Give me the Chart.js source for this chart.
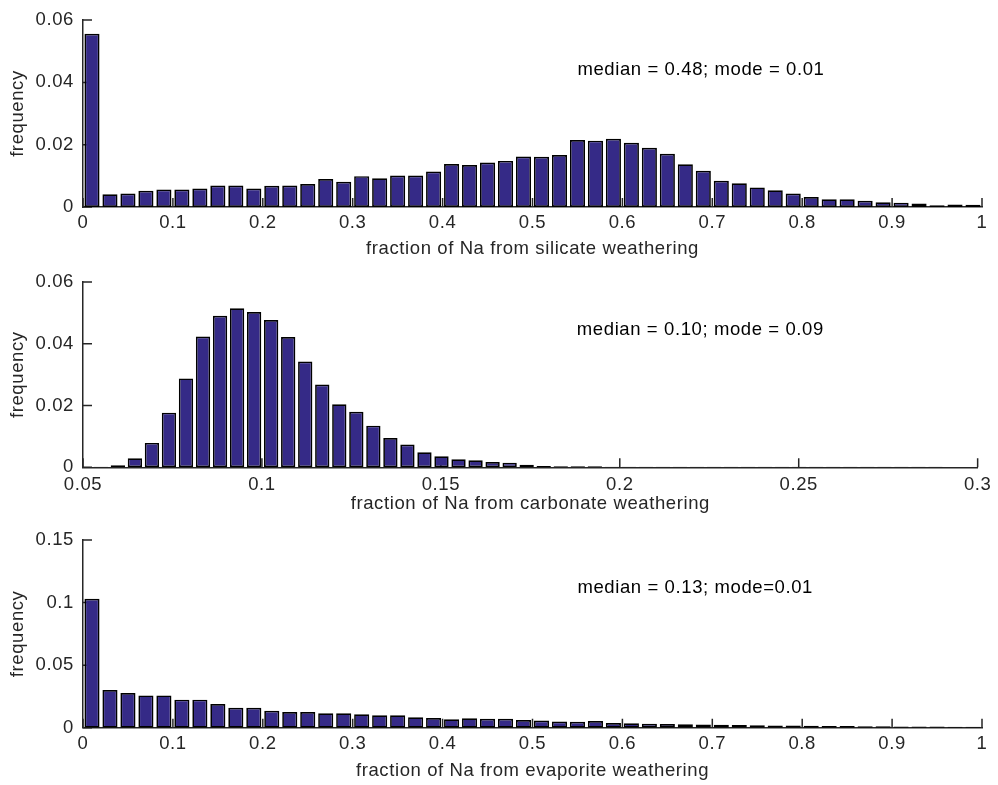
<!DOCTYPE html>
<html>
<head>
<meta charset="utf-8">
<script src="https://cdn.jsdelivr.net/npm/chart.js@4.4.1/dist/chart.umd.min.js"></script>
<style>
  body { margin: 0; background: #fff; }
  canvas { position: absolute; left: 0; }
</style>
</head>
<body>
<canvas id="silicate" width="998" height="262" style="top:0px"></canvas>
<canvas id="carbonate" width="998" height="253" style="top:262px"></canvas>
<canvas id="evaporite" width="998" height="270" style="top:515px"></canvas>
<script>
// left edge of the first bin and bin width, 50 bins per histogram
const binStart = [0, 0.0526, 0];
const binWidth = [0.02, 0.00476, 0.02];

const silicateFreq = [
  0.0556, 0.0041, 0.0043, 0.0052, 0.0056, 0.0056, 0.0059, 0.0069, 0.0069, 0.0059,
  0.0068, 0.0069, 0.0074, 0.0090, 0.0081, 0.0099, 0.0092, 0.0101, 0.0101, 0.0114,
  0.0138, 0.0135, 0.0143, 0.0148, 0.0162, 0.0161, 0.0167, 0.0215, 0.0213, 0.0219,
  0.0206, 0.0190, 0.0171, 0.0137, 0.0116, 0.0084, 0.0076, 0.0063, 0.0054, 0.0043,
  0.0032, 0.0025, 0.0025, 0.0020, 0.0015, 0.0014, 0.0011, 0.0006, 0.0008, 0.0007
];
const carbonateFreq = [
  0.0002, 0.0007, 0.0029, 0.0079, 0.0177, 0.0288, 0.0424, 0.0491, 0.0515, 0.0503,
  0.0477, 0.0422, 0.0343, 0.0268, 0.0204, 0.0180, 0.0135, 0.0095, 0.0074, 0.0049,
  0.0036, 0.0026, 0.0023, 0.0017, 0.0015, 0.0008, 0.0004, 0.0003, 0.0003, 0.0003,
  0.0002, 0.0002, 0.0002, 0.0002, 0.0002, 0.0002, 0.0002, 0.0002, 0.0002, 0.0002,
  0.0002, 0.0002, 0.0002, 0.0002, 0.0002, 0.0002, 0.0002, 0.0002, 0.0002, 0.0002
];
const evaporiteFreq = [
  0.1031, 0.0301, 0.0277, 0.0258, 0.0258, 0.0224, 0.0224, 0.0189, 0.0160, 0.0160,
  0.0136, 0.0125, 0.0125, 0.0115, 0.0115, 0.0107, 0.0099, 0.0099, 0.0083, 0.0077,
  0.0067, 0.0075, 0.0072, 0.0072, 0.0062, 0.0058, 0.0050, 0.0048, 0.0053, 0.0038,
  0.0035, 0.0031, 0.0029, 0.0028, 0.0026, 0.0023, 0.0021, 0.0020, 0.0018, 0.0017,
  0.0015, 0.0014, 0.0013, 0.0012, 0.0011, 0.0010, 0.0009, 0.0009, 0.0008, 0.0008
];

const xTitles = [
  'fraction of Na from silicate weathering',
  'fraction of Na from carbonate weathering',
  'fraction of Na from evaporite weathering'
];
const notes = ['median = 0.48; mode = 0.01', 'median = 0.10; mode = 0.09', 'median = 0.13; mode=0.01'];
const noteX = [0.55, 0.188, 0.55];
const noteY = [0.0425, 0.0427, 0.1077];

const xTicks = [
  [0, 0.1, 0.2, 0.3, 0.4, 0.5, 0.6, 0.7, 0.8, 0.9, 1],
  [0.05, 0.1, 0.15, 0.2, 0.25, 0.3],
  [0, 0.1, 0.2, 0.3, 0.4, 0.5, 0.6, 0.7, 0.8, 0.9, 1]
];
const yTicks = [
  [0, 0.02, 0.04, 0.06],
  [0, 0.02, 0.04, 0.06],
  [0, 0.05, 0.1, 0.15]
];

// page geometry of each panel (canvas top/height, plot box, label rows)
const canvasTop = [0, 262, 515];
const canvasH = [262, 253, 270];
const plotTop = [18, 280, 540];
const plotBottom = [207, 467.3, 727.7];
const tickRow = [223, 485, 744];
const titleRow = [249, 504, 770.5];

const INK = '#262626';
const FONT = '"Liberation Sans", Arial, Helvetica, sans-serif';
const SIZE = 18.5;
const TRACKING = '0.6px';
Chart.defaults.font.family = FONT;
Chart.defaults.font.size = SIZE;
Chart.defaults.color = INK;

const LH = SIZE * 1.2;
const fmt = v => String(parseFloat(v.toFixed(4)));

// slightly looser text, set before layout measures labels and before drawing
const tracking = {
  id: 'tracking',
  beforeUpdate(chart) { chart.ctx.letterSpacing = TRACKING; },
  beforeDraw(chart) { chart.ctx.letterSpacing = TRACKING; }
};

// matlab-style tick marks pointing into the axes
const inwardTicks = {
  id: 'inwardTicks',
  beforeDatasetsDraw(chart) {
    const {ctx, chartArea: a, scales: {x, y}} = chart;
    ctx.save();
    ctx.strokeStyle = INK;
    ctx.lineWidth = 1.5;
    ctx.beginPath();
    x.ticks.forEach(t => {
      const px = x.getPixelForValue(t.value);
      ctx.moveTo(px, a.bottom);
      ctx.lineTo(px, a.bottom - 9);
    });
    y.ticks.forEach(t => {
      const py = y.getPixelForValue(t.value);
      ctx.moveTo(a.left, py);
      ctx.lineTo(a.left + 9, py);
    });
    ctx.stroke();
    ctx.restore();
  }
};

const noteText = {
  id: 'noteText',
  afterDraw(chart) {
    const i = chart.options.panel;
    const {ctx, scales: {x, y}} = chart;
    ctx.save();
    ctx.font = SIZE + 'px ' + FONT;
    ctx.fillStyle = '#000';
    ctx.textAlign = 'left';
    ctx.textBaseline = 'alphabetic';
    ctx.fillText(notes[i], x.getPixelForValue(noteX[i]), y.getPixelForValue(noteY[i]));
    ctx.restore();
  }
};

function histogram(id, i, freq) {
  const points = freq.map((f, k) => ({x: binStart[i] + binWidth[i] * (k + 0.5), y: f}));
  const top = plotTop[i] - canvasTop[i];
  const bottom = plotBottom[i] - canvasTop[i];
  const xHeight = titleRow[i] + LH / 2 - plotBottom[i];
  const xs = xTicks[i], ys = yTicks[i];

  new Chart(document.getElementById(id), {
    type: 'bar',
    data: {
      datasets: [{
        data: points,
        backgroundColor: '#352a87',
        borderColor: '#000',
        borderWidth: 1.7,
        borderSkipped: false,
        barPercentage: 0.84,
        categoryPercentage: 1
      }]
    },
    options: {
      panel: i,
      responsive: false,
      animation: false,
      devicePixelRatio: 1,
      layout: {
        padding: {left: 0, right: 16, top: top, bottom: canvasH[i] - bottom - xHeight}
      },
      plugins: {legend: {display: false}, tooltip: {enabled: false}},
      scales: {
        x: {
          type: 'linear',
          min: xs[0],
          max: xs[xs.length - 1],
          offset: false,
          grid: {display: false, drawTicks: false},
          border: {color: INK, width: 1.5},
          afterBuildTicks: s => { s.ticks = xs.map(v => ({value: v})); },
          afterFit: s => { s.height = xHeight; },
          ticks: {
            padding: tickRow[i] - plotBottom[i] - LH / 2,
            maxRotation: 0,
            autoSkip: false,
            callback: fmt
          },
          title: {display: true, text: xTitles[i], padding: {top: 0, bottom: 0}}
        },
        y: {
          min: ys[0],
          max: ys[ys.length - 1],
          grid: {display: false, drawTicks: false},
          border: {color: INK, width: 1.5},
          afterBuildTicks: s => { s.ticks = ys.map(v => ({value: v})); },
          afterFit: s => { s.width = 83; },
          ticks: {padding: 9, autoSkip: false, callback: fmt},
          title: {display: true, text: 'frequency', padding: {top: 6.5, bottom: 0}}
        }
      }
    },
    plugins: [tracking, inwardTicks, noteText]
  });
}

histogram('silicate', 0, silicateFreq);
histogram('carbonate', 1, carbonateFreq);
histogram('evaporite', 2, evaporiteFreq);
</script>
</body>
</html>
